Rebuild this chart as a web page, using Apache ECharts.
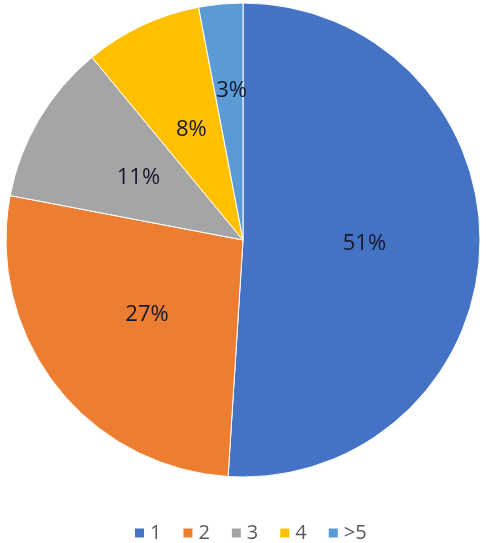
<!DOCTYPE html>
<html>
<head>
<meta charset="utf-8">
<script src="https://cdn.jsdelivr.net/npm/echarts@6/dist/echarts.min.js"></script>
<style>
  html, body { margin: 0; padding: 0; background: #fff; }
  #chart { width: 486px; height: 543px; }
</style>
</head>
<body>
<div id="chart"></div>
<script>
const categories = ["1", "2", "3", "4", ">5"];
const values = [51, 27, 11, 8, 3];
const colors = ["#4472C4", "#ED7D31", "#A5A5A5", "#FFC000", "#5B9BD5"];

let chart = echarts.init(document.getElementById("chart"), null, { renderer: "canvas" });

const pieData = categories.map((c, i) => ({ name: c, value: values[i] }));

chart.setOption({
  color: colors,
  animation: false,
  legend: {
    data: categories,
    top: 518,
    left: 128,
    icon: "rect",
    itemWidth: 11,
    itemHeight: 11,
    itemGap: 20,
    textStyle: { fontSize: 20, color: "#595959", fontFamily: "Open Sans" }
  },
  series: [{
    type: "pie",
    center: [243, 240],
    radius: 237,
    startAngle: 90,
    clockwise: true,
    data: pieData,
    itemStyle: { borderColor: "#fff", borderWidth: 1 },
    label: {
      position: "inside",
      formatter: "{c}%",
      fontSize: 22,
      fontWeight: 500,
      color: "#16182a",
      fontFamily: "Open Sans"
    },
    // the small ">5" label sits further out, as in the original
    labelLayout: (p) => p.dataIndex === 4 ? { dy: -28 } : {},
    labelLine: { show: false },
    emphasis: { disabled: true }
  }]
});
</script>
</body>
</html>
